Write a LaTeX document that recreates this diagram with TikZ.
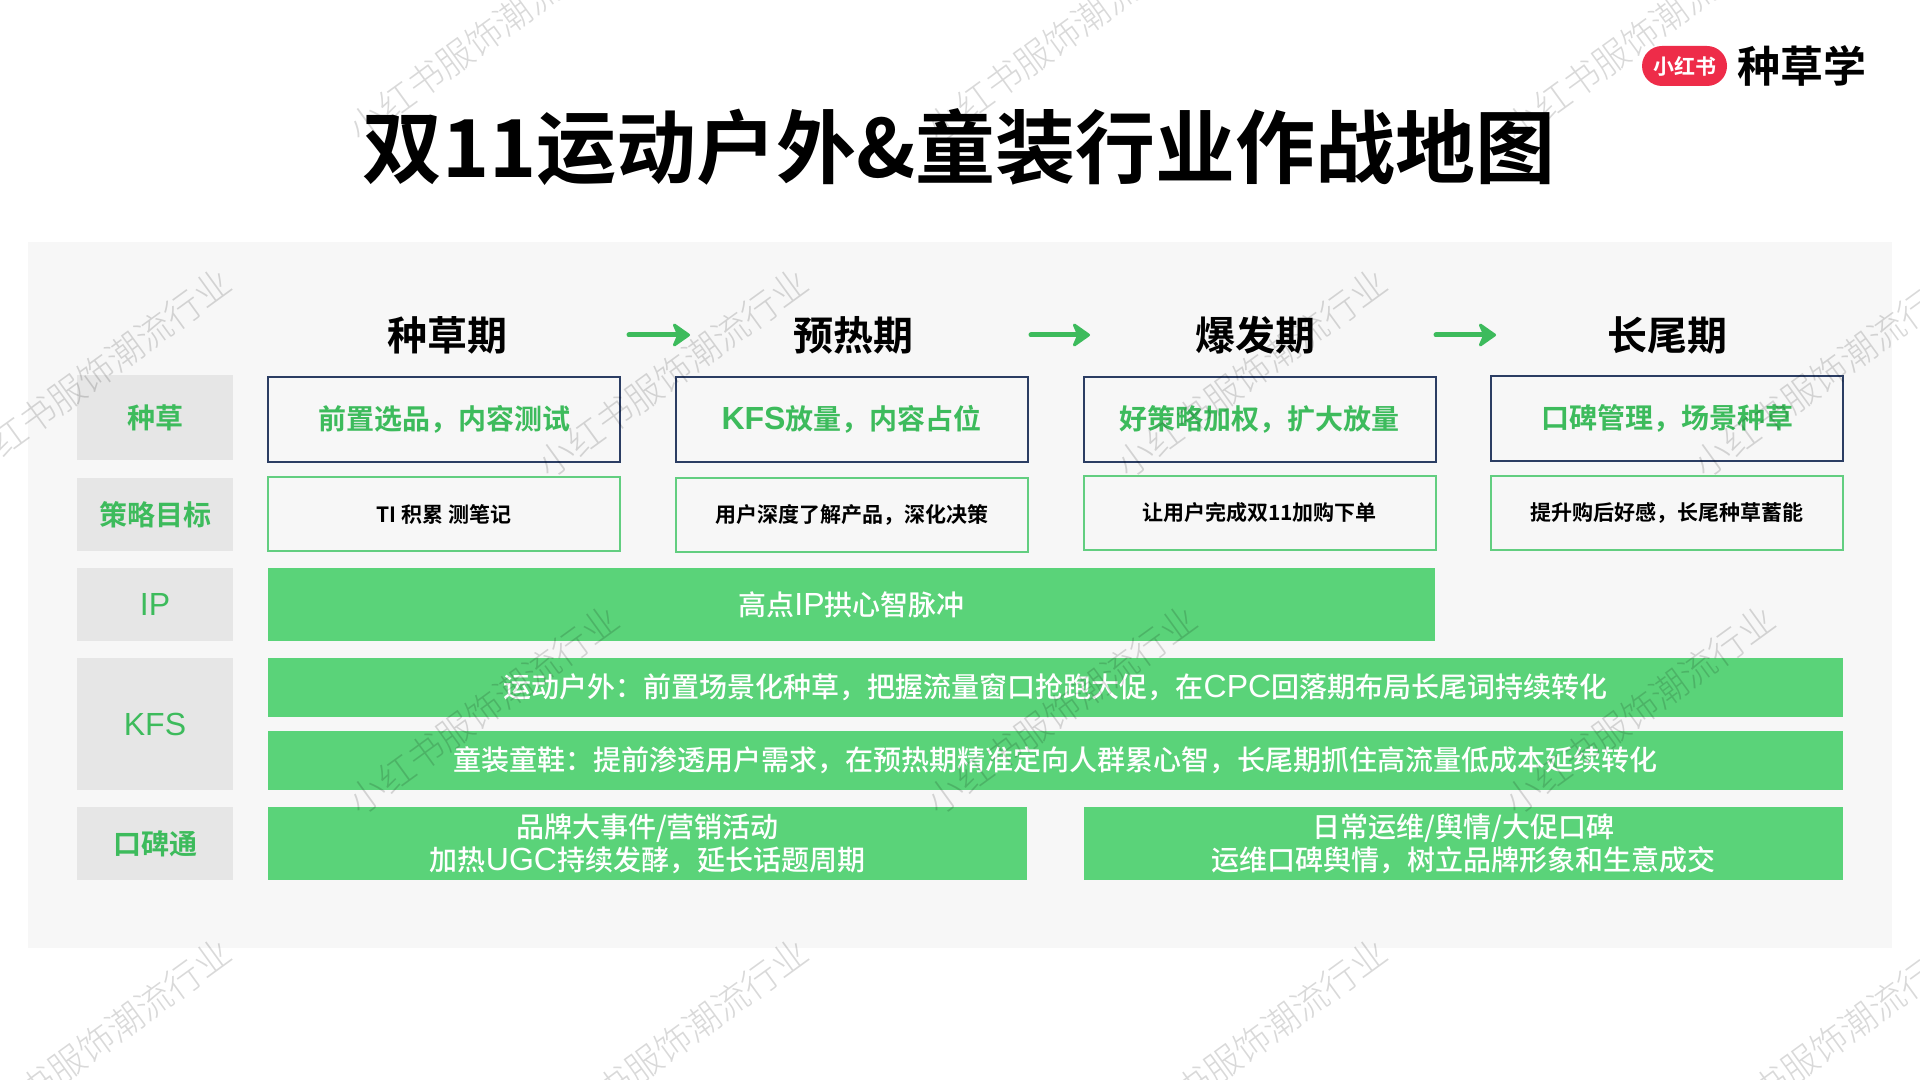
\documentclass[tikz,border=0pt]{standalone}
\usepackage{fontspec}
\setmainfont{Noto Sans CJK SC}[BoldFont={Noto Sans CJK SC Bold}]
\newfontfamily\medfont{Noto Sans CJK SC Medium}
\newfontfamily\thinfont{Noto Sans CJK SC Light}
\newfontfamily\latfont{Liberation Sans}
\newcommand{\latn}[1]{{\latfont\fontsize{16}{16}\selectfont #1}}
\usetikzlibrary{arrows.meta}
\definecolor{panelgray}{HTML}{F7F7F7}
\definecolor{labelgray}{HTML}{E6E6E6}
\definecolor{barfill}{HTML}{5AD379}
\definecolor{textgreen}{HTML}{3DBB5C}
\definecolor{boxgreen}{HTML}{62CE80}
\definecolor{boxblue}{HTML}{2B3D63}
\definecolor{pillred}{HTML}{EE2C49}
\tikzset{
  rowlabel/.style={fill=labelgray,text=textgreen,font=\bfseries\fontsize{14}{16}\selectfont,minimum width=78pt,inner sep=0pt,outer sep=0pt},
  stagename/.style={font=\bfseries\fontsize{20}{24}\selectfont,inner sep=0pt,outer sep=0pt},
  planbox/.style={draw=boxblue,line width=1pt,text=textgreen,font=\bfseries\fontsize{14}{16}\selectfont,minimum width=176pt,minimum height=42.5pt,inner sep=0pt,outer sep=0pt},
  goalbox/.style={draw=boxgreen,line width=1pt,font=\bfseries\fontsize{10.5}{13}\selectfont,minimum width=176pt,minimum height=37pt,inner sep=0pt,outer sep=0pt},
  greenbar/.style={fill=barfill,text=white,font=\medfont\fontsize{14}{16.5}\selectfont,align=center,inner sep=0pt,outer sep=0pt},
  stagearrow/.style={-{Stealth[length=10pt,width=14pt,inset=3pt,line width=1.5pt,round]},draw=textgreen,fill=textgreen,line width=2.5pt,line cap=round},
  wmark/.style={rotate=36,text=black,opacity=0.15,font=\thinfont\fontsize{18}{20}\selectfont,inner sep=0pt}
}
\begin{document}
\begin{tikzpicture}[x=0.5pt,y=-0.5pt]
\useasboundingbox (0,0) rectangle (1920,1080);
\fill[white] (0,0) rectangle (1920,1080);
\fill[panelgray] (28,242) rectangle (1892,948);
\node[font=\bfseries\fontsize{40}{48}\selectfont] (title) at (959,147) {双11运动户外\&童装行业作战地图};
\node[fill=pillred,rounded corners=10pt,minimum width=42.5pt,minimum height=20pt,inner sep=0pt,text=white,font=\bfseries\fontsize{10.5}{12}\selectfont] (pill) at (1684.5,66) {小红书};
\node[font=\bfseries\fontsize{21.5}{24}\selectfont,inner sep=0pt] (brand) at (1801.5,66) {种草学};
% stages
\node[stagename] (stage1) at (447,335) {种草期};
\node[stagename] (stage2) at (853,335) {预热期};
\node[stagename] (stage3) at (1255,335) {爆发期};
\node[stagename] (stage4) at (1667,335) {长尾期};
\draw[stagearrow,shorten <=61pt,shorten >=51.5pt] (stage1) -- (stage2);
\draw[stagearrow,shorten <=59pt,shorten >=52.5pt] (stage2) -- (stage3);
\draw[stagearrow,shorten <=60.5pt,shorten >=55.5pt] (stage3) -- (stage4);
% row labels
\node[rowlabel,minimum height=42.5pt] (lab1) at (155,417.5) {种草};
\node[rowlabel,minimum height=36.5pt] (lab2) at (155,514.5) {策略目标};
\node[rowlabel,minimum height=36.5pt] (lab3) at (155,604.5) {\mdseries\latn{IP}};
\node[rowlabel,minimum height=66pt] (lab4) at (155,724) {\mdseries\latn{KFS}};
\node[rowlabel,minimum height=36.5pt] (lab5) at (155,843.5) {口碑通};
% plan row
\node[planbox] (plan1) at (444,419) {前置选品，内容测试};
\node[planbox] (plan2) at (851.5,419) {\latn{KFS}放量，内容占位};
\node[planbox] (plan3) at (1259.5,419.5) {好策略加权，扩大放量};
\node[planbox] (plan4) at (1667,418.5) {口碑管理，场景种草};
% goal row
\node[goalbox] (goal1) at (444,514) {TI 积累 测笔记};
\node[goalbox] (goal2) at (851.5,514.5) {用户深度了解产品，深化决策};
\node[goalbox] (goal3) at (1259.5,512.5) {让用户完成双11加购下单};
\node[goalbox] (goal4) at (1667,512.5) {提升购后好感，长尾种草蓄能};
% bars
\node[greenbar,minimum width=583.5pt,minimum height=36.5pt] (ipbar) at (851.5,604.5) {高点\latn{IP}拱心智脉冲};
\node[greenbar,minimum width=787.5pt,minimum height=29.5pt] (kfs1) at (1055.5,687.5) {运动户外：前置场景化种草，把握流量窗口抢跑大促，在\latn{CPC}回落期布局长尾词持续转化};
\node[greenbar,minimum width=787.5pt,minimum height=29.5pt] (kfs2) at (1055.5,760.5) {童装童鞋：提前渗透用户需求，在预热期精准定向人群累心智，长尾期抓住高流量低成本延续转化};
\node[greenbar,minimum width=379.5pt,minimum height=36.5pt] (word1) at (647.5,843.5) {品牌大事件/营销活动\\加热\latn{UGC}持续发酵，延长话题周期};
\node[greenbar,minimum width=379.5pt,minimum height=36.5pt] (word2) at (1463.5,843.5) {日常运维/舆情/大促口碑\\运维口碑舆情，树立品牌形象和生意成交};
% watermark
\foreach \wx/\wy in {484/37,1062/37,1640/37,96/373,673/373,1252/373,1829/373,484/710,1062/710,1640/710,96/1043,673/1043,1252/1043,1829/1043}
  \node[wmark] at (\wx,\wy) {小红书服饰潮流行业};
\end{tikzpicture}
\end{document}
